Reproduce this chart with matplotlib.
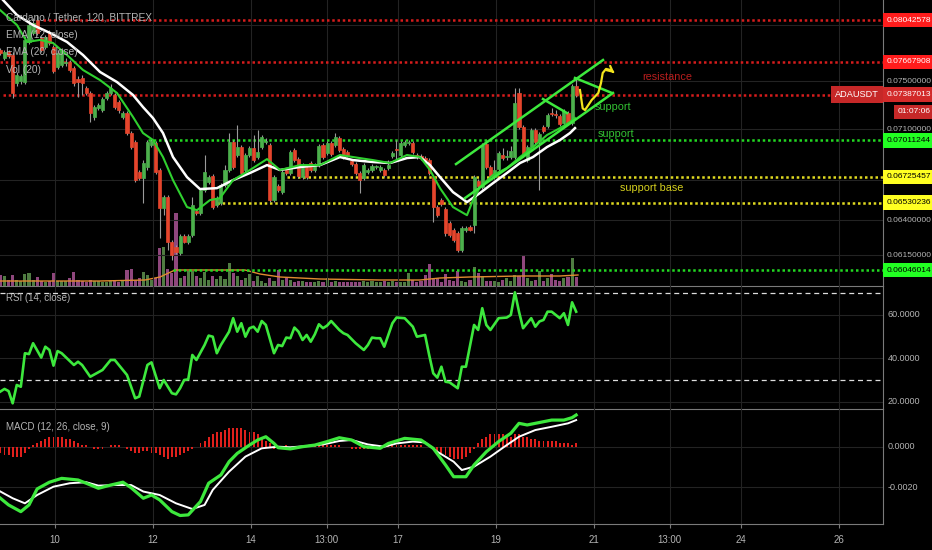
import matplotlib
matplotlib.use('Agg')
import matplotlib.pyplot as plt
from matplotlib import font_manager
import numpy as np


def has_font(name):
    try:
        font_manager.findfont(name, fallback_to_default=False)
        return True
    except ValueError:
        return False


NARROW = has_font('Liberation Sans Narrow')
plt.rcParams['font.family'] = ['Liberation Sans Narrow' if NARROW else 'Liberation Sans', 'DejaVu Sans']
FS_AX = 7.0 if NARROW else 6.0     # price scale labels
FS_TXT = 8.0 if NARROW else 7.0    # legend / captions

# 2h candles, x axis is day of month
first_day = 8.886
bar_step = 1 / 12

opens = [0.07773, 0.07703, 0.07755, 0.07729, 0.07486, 0.07503, 0.07494, 0.07845, 0.07926, 0.08044,
         0.07881, 0.07800, 0.07926, 0.07800, 0.07624, 0.07641, 0.07659, 0.07668, 0.07615, 0.07520,
         0.07529, 0.07443, 0.07401, 0.07201, 0.07275, 0.07258, 0.07359, 0.07401, 0.07384, 0.07325,
         0.07201, 0.07233, 0.07070, 0.06998, 0.06762, 0.06716, 0.06801, 0.06974, 0.06990, 0.06778,
         0.06489, 0.06572, 0.06242, 0.06206, 0.06164, 0.06285, 0.06242, 0.06292, 0.06467, 0.06452,
         0.06624, 0.06685, 0.06731, 0.06512, 0.06527, 0.06662, 0.06778, 0.06998, 0.06895, 0.06958,
         0.06778, 0.06895, 0.06950, 0.06879, 0.06958, 0.06998, 0.06974, 0.06549, 0.06655, 0.06609,
         0.06778, 0.06755, 0.06934, 0.06863, 0.06723, 0.06801, 0.06832, 0.06778, 0.06816, 0.06974,
         0.06911, 0.06990, 0.06974, 0.07030, 0.06942, 0.06918, 0.06847, 0.06824, 0.06755, 0.06716,
         0.06762, 0.06778, 0.06801, 0.06778, 0.06778, 0.06793, 0.06887, 0.06942, 0.06895, 0.06974,
         0.06990, 0.06990, 0.06895, 0.06887, 0.06871, 0.06855, 0.06723, 0.06497, 0.06549, 0.06482,
         0.06379, 0.06328, 0.06306, 0.06185, 0.06328, 0.06350, 0.06364, 0.06693, 0.06647, 0.06982,
         0.06801, 0.06723, 0.06785, 0.06895, 0.06879, 0.06879, 0.06879, 0.07401, 0.07119, 0.06855,
         0.06958, 0.07094, 0.06998, 0.07119, 0.07127, 0.07233, 0.07225, 0.07209, 0.07151, 0.07233,
         0.07151, 0.07460]
highs = [0.07791, 0.07773, 0.07773, 0.07755, 0.07581, 0.07564, 0.07899, 0.08044, 0.08062, 0.08090,
         0.07899, 0.07908, 0.07953, 0.07818, 0.07773, 0.07791, 0.07703, 0.07685, 0.07633, 0.07546,
         0.07555, 0.07460, 0.07418, 0.07300, 0.07317, 0.07367, 0.07418, 0.07477, 0.07401, 0.07342,
         0.07250, 0.07250, 0.07086, 0.07014, 0.06778, 0.06855, 0.07014, 0.07022, 0.07006, 0.06793,
         0.06587, 0.06587, 0.06256, 0.06220, 0.06299, 0.06299, 0.06299, 0.06572, 0.06482, 0.06639,
         0.06895, 0.06739, 0.06747, 0.06579, 0.06677, 0.06816, 0.07070, 0.07014, 0.07135, 0.06974,
         0.06911, 0.06966, 0.07054, 0.07094, 0.07054, 0.07030, 0.06990, 0.06739, 0.06670, 0.06778,
         0.06793, 0.06934, 0.06950, 0.06879, 0.06832, 0.06816, 0.06847, 0.06832, 0.06982, 0.06990,
         0.07006, 0.07006, 0.07070, 0.07046, 0.06958, 0.06934, 0.06863, 0.06840, 0.06770, 0.06832,
         0.06793, 0.06824, 0.06816, 0.06816, 0.06793, 0.06855, 0.06926, 0.07014, 0.07006, 0.07014,
         0.07014, 0.07006, 0.06911, 0.06903, 0.06887, 0.06871, 0.06739, 0.06512, 0.06564, 0.06497,
         0.06393, 0.06343, 0.06321, 0.06357, 0.06357, 0.06364, 0.06739, 0.06708, 0.06990, 0.06998,
         0.06816, 0.06855, 0.06926, 0.06950, 0.06934, 0.06966, 0.07443, 0.07443, 0.07135, 0.06974,
         0.07110, 0.07110, 0.07078, 0.07135, 0.07233, 0.07275, 0.07258, 0.07225, 0.07267, 0.07250,
         0.07477, 0.07529]
lows = [0.07729, 0.07685, 0.07703, 0.07359, 0.07460, 0.07477, 0.07477, 0.07827, 0.07908, 0.07908,
        0.07755, 0.07782, 0.07818, 0.07572, 0.07607, 0.07624, 0.07633, 0.07581, 0.07460, 0.07367,
        0.07384, 0.07384, 0.07160, 0.07176, 0.07258, 0.07242, 0.07342, 0.07384, 0.07267, 0.07233,
        0.07184, 0.07054, 0.06942, 0.06685, 0.06700, 0.06527, 0.06778, 0.06958, 0.06747, 0.06270,
        0.06437, 0.06185, 0.06115, 0.06157, 0.06150, 0.06235, 0.06228, 0.06278, 0.06437, 0.06437,
        0.06609, 0.06670, 0.06482, 0.06497, 0.06512, 0.06647, 0.06762, 0.06785, 0.06879, 0.06739,
        0.06762, 0.06879, 0.06840, 0.06863, 0.06942, 0.06982, 0.06534, 0.06534, 0.06609, 0.06594,
        0.06739, 0.06739, 0.06840, 0.06716, 0.06708, 0.06708, 0.06762, 0.06762, 0.06801, 0.06863,
        0.06895, 0.06887, 0.06958, 0.06918, 0.06863, 0.06879, 0.06809, 0.06739, 0.06602, 0.06700,
        0.06747, 0.06762, 0.06785, 0.06762, 0.06723, 0.06778, 0.06871, 0.06855, 0.06879, 0.06958,
        0.06974, 0.06903, 0.06863, 0.06855, 0.06840, 0.06739, 0.06386, 0.06423, 0.06504, 0.06285,
        0.06278, 0.06242, 0.06171, 0.06171, 0.06314, 0.06321, 0.06306, 0.06639, 0.06632, 0.06785,
        0.06716, 0.06708, 0.06770, 0.06855, 0.06855, 0.06863, 0.06863, 0.07102, 0.06879, 0.06840,
        0.06942, 0.06982, 0.06624, 0.07070, 0.07110, 0.07209, 0.07192, 0.07127, 0.07135, 0.07135,
        0.07135, 0.07367]
closes = [0.07747, 0.07755, 0.07720, 0.07401, 0.07555, 0.07546, 0.07863, 0.07998, 0.08016, 0.07926,
          0.07773, 0.07890, 0.07836, 0.07589, 0.07747, 0.07773, 0.07668, 0.07598, 0.07486, 0.07494,
          0.07486, 0.07401, 0.07233, 0.07283, 0.07300, 0.07350, 0.07401, 0.07443, 0.07283, 0.07258,
          0.07233, 0.07070, 0.06958, 0.06700, 0.06716, 0.06832, 0.06998, 0.07006, 0.06762, 0.06489,
          0.06572, 0.06242, 0.06150, 0.06171, 0.06285, 0.06242, 0.06285, 0.06512, 0.06452, 0.06624,
          0.06762, 0.06723, 0.06497, 0.06564, 0.06662, 0.06778, 0.06998, 0.06801, 0.06958, 0.06755,
          0.06895, 0.06950, 0.06855, 0.06918, 0.07038, 0.07006, 0.06549, 0.06723, 0.06624, 0.06762,
          0.06755, 0.06918, 0.06855, 0.06731, 0.06816, 0.06723, 0.06778, 0.06816, 0.06966, 0.06879,
          0.06990, 0.06903, 0.07038, 0.06934, 0.06879, 0.06895, 0.06824, 0.06755, 0.06700, 0.06816,
          0.06778, 0.06809, 0.06809, 0.06801, 0.06739, 0.06816, 0.06911, 0.06938, 0.06990, 0.06998,
          0.06998, 0.06918, 0.06879, 0.06871, 0.06855, 0.06755, 0.06497, 0.06437, 0.06519, 0.06306,
          0.06292, 0.06256, 0.06185, 0.06343, 0.06343, 0.06328, 0.06723, 0.06655, 0.06974, 0.06801,
          0.06731, 0.06778, 0.06911, 0.06871, 0.06887, 0.06926, 0.07317, 0.07119, 0.06895, 0.06958,
          0.07094, 0.06998, 0.07062, 0.07086, 0.07217, 0.07228, 0.07217, 0.07143, 0.07250, 0.07151,
          0.07460, 0.07387013]
# volume, arbitrary units
volume = [11, 10, 6, 11, 6, 5, 12, 13, 6, 9, 5, 4, 5, 13, 5, 5, 5, 8, 14, 6,
          5, 4, 6, 5, 5, 4, 4, 5, 5, 4, 5, 16, 17, 6, 8, 14, 11,
          6, 8, 38, 39, 17, 13, 73, 8, 10, 15, 15, 10, 8, 14, 6, 10, 7, 10, 7, 23,
          13, 10, 6, 8, 12, 5, 10, 5, 3, 8, 5, 16, 6, 8, 6,
          4, 5, 5, 4, 4, 4, 5, 4, 8, 4, 5, 4, 4,
          4, 4, 4, 4, 5, 4, 5, 4, 4, 5, 4, 5, 4, 4, 4,
          13, 6, 4, 5, 11, 22, 8,
          8, 4, 12, 6, 5, 15, 5, 4, 6, 19, 13, 10, 5, 5, 5, 4, 6, 8, 5, 11, 10, 31,
          8, 5, 6, 15, 5, 8, 12, 6, 5, 8, 9, 28, 9]
vol_ma_days = [8.878, 9.898, 10.918, 11.837, 12.143, 12.449, 12.959, 13.878, 14.184, 14.592,
               15.408, 16.633, 17.449, 17.857, 18.469, 19.490, 20.306, 20.673]
vol_ma = [5, 5, 5, 6, 9, 16, 16, 16, 12, 9, 7, 6, 6, 8, 9, 10, 10, 11]

ema12_days = [8.878, 9.224, 9.429, 9.694, 9.959, 10.245, 10.571, 10.918, 11.265, 11.592, 11.796,
              12.0, 12.204, 12.408, 12.694, 12.898, 13.163, 13.367, 13.633, 13.980, 14.327, 14.592,
              15.0, 15.408, 15.816, 16.082, 16.490, 16.837, 17.184, 17.449, 17.653, 17.857, 18.122,
              18.408, 18.531, 18.673, 18.939, 19.224, 19.490, 19.755, 20.041, 20.306, 20.510, 20.612]
ema12 = [0.08137, 0.07998, 0.07845, 0.07863, 0.07836, 0.07729, 0.07598, 0.07511, 0.07401, 0.07201,
         0.07070, 0.07014, 0.06879, 0.06700, 0.06497, 0.06474, 0.06549, 0.06564, 0.06700, 0.06778,
         0.06863, 0.06778, 0.06816, 0.06816, 0.06895, 0.06879, 0.06855, 0.06832, 0.06895, 0.06879,
         0.06778, 0.06639, 0.06497, 0.06437, 0.06549, 0.06647, 0.06739, 0.06793, 0.06879, 0.06958,
         0.07054, 0.07110, 0.07160, 0.07192]
ema20_days = [8.939, 9.224, 9.551, 9.898, 10.245, 10.571, 10.918, 11.265, 11.592, 11.796, 12.0,
              12.204, 12.408, 12.694, 12.959, 13.306, 13.633, 13.980, 14.327, 14.592, 15.0, 15.408,
              15.816, 16.082, 16.490, 16.837, 17.184, 17.449, 17.653, 17.857, 18.122, 18.408, 18.673,
              18.939, 19.224, 19.490, 19.755, 20.041, 20.306, 20.510, 20.612]
ema20 = [0.08230, 0.08090, 0.07998, 0.07926, 0.07845, 0.07729, 0.07581, 0.07494, 0.07384, 0.07283,
         0.07192, 0.07070, 0.06879, 0.06723, 0.06632, 0.06639, 0.06700, 0.06755, 0.06816, 0.06778,
         0.06801, 0.06816, 0.06879, 0.06855, 0.06840, 0.06832, 0.06871, 0.06879, 0.06816, 0.06723,
         0.06609, 0.06534, 0.06602, 0.06677, 0.06755, 0.06832, 0.06879, 0.06958, 0.07014, 0.07070,
         0.07110]

# horizontal levels drawn on the chart
level_prices = [0.08042578, 0.07667908, 0.07387013, 0.07011244, 0.06725457, 0.06530236, 0.06046014]
level_start = [9.755, 8.878, 8.94, 11.898, 14.735, 13.306, 12.408]
level_kind = ['r', 'r', 'r', 'g', 'y', 'y', 'g']

# channel / wedge lines: (day1, price1, day2, price2)
trendlines = [(18.184, 0.06824, 21.184, 0.07685),
              (18.367, 0.06564, 21.388, 0.07401),
              (20.612, 0.07529, 21.367, 0.07401),
              (19.959, 0.07350, 20.449, 0.07233)]
path_days = [20.714, 20.769, 20.816, 20.953, 21.088, 21.143, 21.178, 21.245, 21.341]
path_prices = [0.07426, 0.07272, 0.07258, 0.07342, 0.07401, 0.07486, 0.07572, 0.07607, 0.07598]

rsi_idx = [0, 1, 2, 3, 4, 5, 6, 7, 8, 10, 11, 12, 13, 14, 15, 18, 19, 20, 22, 25, 27, 28, 31, 33, 34,
           36, 37, 39, 40, 42, 43, 44, 45, 46, 47, 48, 50, 51, 52, 53, 54, 56, 57, 58, 59, 60, 61,
           62, 63, 64, 65, 67, 68, 69, 70, 71, 72, 73, 74, 75, 76, 77, 78, 79, 80, 81, 83, 84, 85,
           87, 89, 90, 91, 92, 93, 94, 96, 97, 99, 101, 102, 104, 105, 106, 107, 108, 109, 110, 112,
           113, 114, 116, 117, 118, 119, 120, 122, 124, 125, 126, 127, 128, 129, 130, 131, 132, 133,
           134, 135, 136, 137, 138, 139, 140, 141]
rsi_val = [24.8, 26, 25, 19.4, 27.8, 27, 42.4, 42, 47, 40.4, 45.4, 43.9, 36.7, 43.4, 42.4, 37, 38.5,
           37, 31.6, 34.7, 39.3, 39.3, 32.4, 21.7, 22.5, 37, 38.2, 26.3, 30.1, 24, 23.5, 26.3, 30.1,
           30.4, 41.6, 39.3, 46.2, 50.5, 50, 42.4, 46.2, 52.3, 58.5, 52.3, 56.2, 50, 53.9, 54.6, 52.3,
           57.2, 55.4, 42.4, 46.2, 45.7, 49.6, 49.3, 54.2, 52.3, 48.5, 50.8, 47.7, 51.1, 55.7, 53.9,
           55.1, 57.2, 53.1, 51.6, 50.8, 47, 43.9, 46.2, 49.6, 49.3, 49.3, 45.4, 56.2, 58.8, 58.5,
           54.6, 50, 50.8, 41.6, 33.2, 31.2, 36.2, 29.3, 29, 26.3, 36.2, 36.2, 55.4, 53.1, 63.1, 55.4,
           53.1, 58.5, 58.8, 60, 70.4, 61.5, 53.9, 56.2, 58.5, 54.6, 57, 57.7, 61.5, 61.5, 60, 58.5,
           60.8, 55.4, 65.8, 61.5]

# MACD pane, values x 1e-4
macd_idx = [0, 2, 5, 7, 9, 12, 15, 19, 21, 24, 27, 30, 32, 35, 37, 39, 42, 44, 46, 49, 51, 54, 56,
            58, 61, 63, 65, 67, 68, 71, 74, 77, 80, 83, 86, 89, 93, 95, 99, 103, 106, 109, 111, 114,
            116, 119, 122, 125, 127, 129, 133, 135, 138, 140, 141]
macd_val = [-25.4, -28.7, -32, -28.7, -20.8, -17.5, -15.6, -16.4, -18, -20.5, -18.9, -17.5, -20.2,
            -25.4, -23.8, -26.2, -32, -33.9, -33.6, -27, -18, -13.9, -7.4, -3.3, 0.8, 3.3, 4.9, 1.6,
            -0.5, -1.1, 0, 0.8, 2.5, 4.4, 3.3, 0, -0.8, 1.6, 4.1, 3.3, -0.8, -9, -14.8, -14.8, -9,
            -2.5, 2.5, 6.6, 11.5, 10.7, 12.3, 13.1, 13.1, 14.3, 15.6]
signal_idx = [0, 3, 6, 9, 13, 17, 21, 24, 28, 32, 35, 39, 43, 47, 50, 52, 56, 60, 64, 68, 71, 75, 79,
              83, 86, 90, 94, 97, 101, 104, 107, 111, 113, 116, 120, 124, 127, 131, 135, 139, 141]
signal_val = [-22.1, -25.4, -27.9, -23.8, -19.7, -18, -17.5, -19.2, -18.9, -18.9, -22.1, -23.8,
              -27.9, -30.7, -28.7, -21.3, -12.3, -4.9, -0.8, 0, -0.3, 0.3, 1.1, 2.8, 3.3, 1.1, 0,
              1.6, 2.5, 2.1, -2.5, -7.4, -11.5, -9.8, -4.9, 0.8, 4.9, 8.2, 9.8, 11.5, 13.1]
hist_val = [-3, -4, -4, -5, -5, -5, -3, -1, 1, 2,
            3, 4, 5, 5, 5, 5, 4, 4, 3, 2, 1, 1,
            0, -1, -1, -1, 0, 1, 1, 1, 0,
            -1, -2, -3, -3, -2, -2, -3, -3, -4, -5, -6, -5,
            -5, -4, -3, -2, -1, 0,
            2, 3, 5, 6, 7, 7, 8, 9, 9, 9, 9, 8, 7, 7, 6, 5, 3, 2,
            -1, -1, 0, 1, 0, -1, -1, 0, 0, 0, 1, 1, 1, 1, 1, 1, 1, 0, 0, -1, -1, -1, -1, -1, 0, 0, 0,
            1, 1, 1, 1, 1, 1,
            1, 1, 1, 1, 0, 0, -1,
            -2, -3, -4, -5, -6, -6, -6, -5, -3, -1, 2,
            4, 5, 6, 6, 6, 6, 5, 5, 6, 6,
            5, 5, 4, 4, 3, 3, 3, 3, 3, 2, 2, 2, 1, 2]

tick_days = [10, 12, 14, 15 + 13 / 24, 17, 19, 21, 22 + 13 / 24, 24, 26]
tick_labels = ['10', '12', '14', '13:00', '17', '19', '21', '13:00', '24', '26']

BG = '#000000'
GRID = '#232323'
AXIS = '#7a7a7a'
TXT = '#b4b4b4'
UP = '#4cb04c'
DOWN = '#e5452c'
RED = '#d61c1c'
GREEN = '#22d822'
YELLOW = '#e0da20'
LIME = '#3de83d'

fig = plt.figure(figsize=(9.32, 5.5), dpi=100, facecolor=BG)
W = 883 / 932
ax_vol = fig.add_axes([0, 0.48, W, 0.52])
ax = fig.add_axes([0, 0.48, W, 0.52], sharex=ax_vol)
ax_rsi = fig.add_axes([0, 0.2564, W, 0.2236], sharex=ax_vol)
ax_macd = fig.add_axes([0, 0.0473, W, 0.2091], sharex=ax_vol)

t = first_day + np.arange(len(closes)) * bar_step
o = np.array(opens)
c = np.array(closes)
h = np.array(highs)
l = np.array(lows)
up = c >= o

# volume underneath
ax_vol.set_facecolor(BG)
ax_vol.bar(t, volume, width=0.062, color=np.where(up, '#5a8a4a', '#a04f8c'), alpha=0.9)
ax_vol.plot(vol_ma_days, vol_ma, color='#e08a30', lw=1)
ax_vol.set_ylim(0, 286)
ax_vol.axis('off')

ax.set_facecolor('none')
ax.set_yscale('log')
ax.set_ylim(0.05937, 0.0823)
ax.set_xlim(8.8776, 26.898)
ax.yaxis.set_major_locator(plt.NullLocator())
ax.yaxis.set_minor_locator(plt.NullLocator())

for g in [0.0800, 0.0750, 0.0710, 0.0670, 0.0640, 0.0615]:
    ax.axhline(g, color=GRID, lw=0.8, zorder=0)

colors = {'r': RED, 'g': GREEN, 'y': YELLOW}
for p, s, k in zip(level_prices, level_start, level_kind):
    ax.hlines(p, s, 26.898, colors=colors[k], lw=1.8, linestyles=(0, (1, 1.1)), zorder=2)

ax.vlines(t, l, h, colors='#9a9a9a', lw=0.8, zorder=3)
col = np.where(up, UP, DOWN)
ax.bar(t, np.abs(c - o), bottom=np.minimum(o, c), width=0.064, color=col,
       edgecolor=col, lw=0.5, zorder=4)

ax.plot(ema20_days, ema20, color='white', lw=1.8, zorder=5)
ax.plot(ema12_days, ema12, color='#2fd02f', lw=1.5, zorder=5)

for d1, p1, d2, p2 in trendlines:
    ax.plot([d1, d2], [p1, p2], color=LIME, lw=1.8, zorder=6)
ax.plot(path_days, path_prices, color='#f2e41c', lw=1.6, zorder=6)
ax.annotate('', xy=(21.463, 0.07555), xytext=(path_days[-1], path_prices[-1]),
            arrowprops=dict(arrowstyle='->', color='#f2e41c', lw=1.6))

ax.text(22.49, 0.07538, 'resistance', color='#b81e1e', fontsize=FS_TXT + 0.8, ha='center', va='center')
ax.text(21.388, 0.07283, 'support', color='#33c233', fontsize=FS_TXT + 0.8, ha='center', va='center')
ax.text(21.449, 0.07062, 'support', color='#33c233', fontsize=FS_TXT + 0.8, ha='center', va='center')
ax.text(22.177, 0.06639, 'support base', color='#d6d01e', fontsize=FS_TXT + 0.8, ha='center', va='center')

# price scale
ytr = ax.get_yaxis_transform()
for g in [0.0750, 0.0710, 0.0640, 0.0615]:
    ax.text(1.004, g, '%.8f' % g, transform=ytr, color=TXT, fontsize=FS_AX, va='center', ha='left')
tag_bg = {'r': '#ff1c1c', 'g': '#22ff22', 'y': '#ffff22'}
tag_fg = {'r': 'white', 'g': 'black', 'y': 'black'}
for p, k in zip(level_prices, level_kind):
    bg = '#d22a2a' if p == closes[-1] else tag_bg[k]
    ax.text(1.004, p, '%.8f' % p, transform=ytr, color=tag_fg[k], fontsize=FS_AX, va='center',
            ha='left', zorder=10,
            bbox=dict(boxstyle='square,pad=0.45', fc=bg, ec='none'))
ax.text(0.995, closes[-1], 'ADAUSDT', transform=ytr, color='white', fontsize=FS_AX + 0.6, va='center',
        ha='right', zorder=10, bbox=dict(boxstyle='square,pad=0.45', fc='#c62828', ec='none'))
ax.text(1.016, 0.07242, '01:07:06', transform=ytr, color='white', fontsize=FS_AX, va='center',
        ha='left', zorder=10, bbox=dict(boxstyle='square,pad=0.4', fc='#c62828', ec='none'))

# RSI
ax_rsi.set_facecolor('none')
ax_rsi.set_ylim(16.78, 73.3)
for g in [60, 40, 20]:
    ax_rsi.axhline(g, color=GRID, lw=0.8, zorder=0)
    ax_rsi.text(1.005, g, '%.4f' % g, transform=ax_rsi.get_yaxis_transform(), color=TXT,
                fontsize=FS_AX + 0.5, va='center', ha='left')
for g in [70, 30]:
    ax_rsi.axhline(g, color='#dddddd', lw=0.9, ls=(0, (4, 3)))
ax_rsi.plot(first_day + np.array(rsi_idx) * bar_step, rsi_val, color=LIME, lw=1.9)
ax_rsi.text(0.007, 0.88, 'RSI (14, close)', transform=ax_rsi.transAxes, color=TXT, fontsize=FS_TXT)

# MACD
ax_macd.set_facecolor('none')
ax_macd.set_ylim(-0.003808, 0.001857)
for g in [0.0, -0.002]:
    ax_macd.axhline(g, color=GRID, lw=0.8, zorder=0)
    ax_macd.text(1.005, g, '%.4f' % g, transform=ax_macd.get_yaxis_transform(), color=TXT,
                 fontsize=FS_AX + 0.5, va='center', ha='left')
ax_macd.bar(t, np.array(hist_val) * 1e-4, width=0.04, color='#e0201c')
ax_macd.plot(first_day + np.array(signal_idx) * bar_step, np.array(signal_val) * 1e-4,
             color='white', lw=1.4)
ax_macd.plot(first_day + np.array(macd_idx) * bar_step, np.array(macd_val) * 1e-4,
             color=LIME, lw=2.3)
ax_macd.text(0.007, 0.82, 'MACD (12, 26, close, 9)', transform=ax_macd.transAxes, color=TXT,
             fontsize=FS_TXT)

for a in (ax, ax_rsi, ax_macd):
    for side in ('left', 'top'):
        a.spines[side].set_visible(False)
    a.spines['right'].set_color(AXIS)
    a.spines['bottom'].set_color(AXIS)
    a.grid(axis='x', color=GRID, lw=0.8)
    a.set_axisbelow(True)
    a.tick_params(axis='y', left=False, right=False, labelleft=False)

ax_macd.set_xticks(tick_days)
ax_macd.set_xticklabels(tick_labels)
ax_macd.tick_params(axis='x', colors=TXT, labelsize=FS_AX + 1.0, length=3, color=AXIS, pad=5)
for a in (ax, ax_rsi):
    a.tick_params(axis='x', bottom=False, labelbottom=False)

fig.text(6 / 932, 1 - 17 / 550, 'Cardano / Tether, 120, BITTREX', color=TXT, fontsize=FS_TXT + 0.3, va='center')
fig.text(6 / 932, 1 - 35 / 550, 'EMA (12, close)', color=TXT, fontsize=FS_TXT + 0.3, va='center')
fig.text(6 / 932, 1 - 52 / 550, 'EMA (20, close)', color=TXT, fontsize=FS_TXT + 0.3, va='center')
fig.text(6 / 932, 1 - 70 / 550, 'Vol (20)', color=TXT, fontsize=FS_TXT + 0.3, va='center')

fig.savefig('out.png', dpi=100, facecolor=BG)
